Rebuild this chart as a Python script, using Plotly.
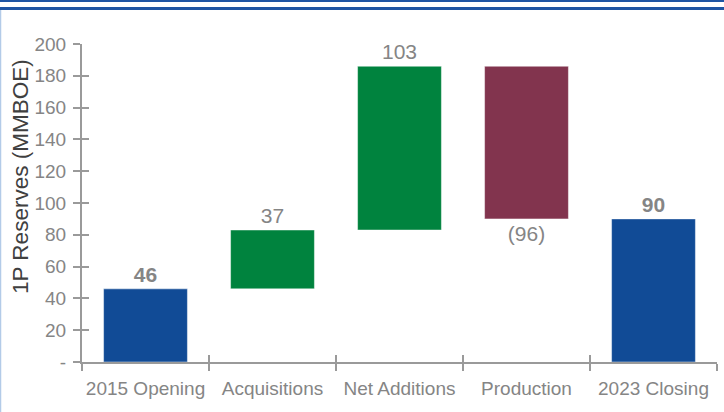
#import libraries
import plotly.graph_objects as go

#data (MMBOE)
categories = ["2015 Opening", "Acquisitions", "Net Additions", "Production", "2023 Closing"]
values = [46, 37, 103, -96, 90]
measure = ["total", "delta", "delta", "delta", "total"]
bar_labels = ["<b>46</b>", "37", "103", "(96)", "<b>90</b>"]
y_ticks = [0, 20, 40, 60, 80, 100, 120, 140, 160, 180, 200]
y_tick_text = ["-", "20", "40", "60", "80", "100", "120", "140", "160", "180", "200"]
y_title = "1P Reserves (MMBOE)"

BLUE = "#114b96"
GREEN = "#00833e"
MAROON = "#82344e"
GREY = "#858585"
AXIS = "#9a9a9a"

#floating bar bases from the running total
bases = []
running = 0
for v, m in zip(values, measure):
    if m == "total":
        bases.append(0)
        running = v
    else:
        bases.append(running)
        running += v

colors = []
for v, m in zip(values, measure):
    if m == "total":
        colors.append(BLUE)
    elif v > 0:
        colors.append(GREEN)
    else:
        colors.append(MAROON)

fig = go.Figure()
fig.add_trace(
    go.Bar(
        x=categories,
        y=values,
        base=bases,
        marker=dict(color=colors, line=dict(color="rgba(255,255,255,0.45)", width=1)),
        text=bar_labels,
        textposition="outside",
        textfont=dict(family="Liberation Sans, Arial", size=21, color=GREY),
        cliponaxis=False,
        showlegend=False,
        hoverinfo="skip",
    )
)

#invisible trace so the overlay axes (for crossing tick marks) get drawn
fig.add_trace(
    go.Scatter(x=[0], y=[0], xaxis="x2", yaxis="y2", mode="markers",
               marker=dict(opacity=0), showlegend=False, hoverinfo="skip")
)

font = dict(family="Liberation Sans, Arial", size=19, color=GREY)

fig.update_layout(
    width=724,
    height=412,
    margin=dict(l=82, r=7, t=44, b=50),
    paper_bgcolor="white",
    plot_bgcolor="white",
    bargap=0.34,
    font=font,
    xaxis=dict(
        type="category",
        range=[-0.5, 4.5],
        automargin=False,
        showgrid=False,
        showline=True,
        linecolor=AXIS,
        linewidth=2,
        ticks="outside",
        tickson="boundaries",
        ticklen=7,
        tickwidth=2,
        tickcolor=AXIS,
        tickangle=0,
        ticklabelstandoff=8,
        tickfont=font,
    ),
    xaxis2=dict(
        overlaying="x",
        range=[-0.5, 4.5],
        automargin=False,
        showgrid=False,
        zeroline=False,
        showline=False,
        tickmode="array",
        tickvals=[-0.5, 0.5, 1.5, 2.5, 3.5, 4.5],
        ticks="inside",
        ticklen=7,
        tickwidth=2,
        tickcolor=AXIS,
        showticklabels=False,
    ),
    yaxis=dict(
        range=[0, 200],
        automargin=False,
        showgrid=False,
        zeroline=False,
        showline=True,
        linecolor=AXIS,
        linewidth=2,
        tickmode="array",
        tickvals=y_ticks,
        ticktext=y_tick_text,
        ticks="outside",
        ticklen=7,
        tickwidth=2,
        tickcolor=AXIS,
        ticklabelstandoff=3,
        tickfont=font,
    ),
    yaxis2=dict(
        overlaying="y",
        range=[0, 200],
        automargin=False,
        showgrid=False,
        zeroline=False,
        showline=False,
        tickmode="array",
        tickvals=y_ticks,
        ticks="inside",
        ticklen=7,
        tickwidth=2,
        tickcolor=AXIS,
        showticklabels=False,
    ),
)

#axis title as an annotation, it sits above the middle of the axis in the original
fig.add_annotation(
    text=y_title, textangle=-90, showarrow=False,
    xref="paper", yref="paper", x=-62 / 635, y=185 / 318,
    xanchor="center", yanchor="middle",
    font=dict(family="Liberation Sans, Arial", size=22.5, color="#404040"),
)

#page frame: double blue rule at the top and a light rule on the left
fig.add_shape(type="line", xref="paper", yref="paper",
              x0=-82 / 635, x1=(724 - 82) / 635, y0=361 / 318, y1=361 / 318,
              line=dict(color="#1f55a3", width=2))
fig.add_shape(type="line", xref="paper", yref="paper",
              x0=-82 / 635, x1=(724 - 82) / 635, y0=353.5 / 318, y1=353.5 / 318,
              line=dict(color="#1f55a3", width=3))
fig.add_shape(type="line", xref="paper", yref="paper",
              x0=-81.5 / 635, x1=-81.5 / 635, y0=352 / 318, y1=-50 / 318,
              line=dict(color="#b3cbe8", width=1.5))

#drop the browser's default body margin so the figure sits at the page corner
fig.write_html("out.html", config={"displayModeBar": False},
               post_script="document.body.style.margin='0px';")
